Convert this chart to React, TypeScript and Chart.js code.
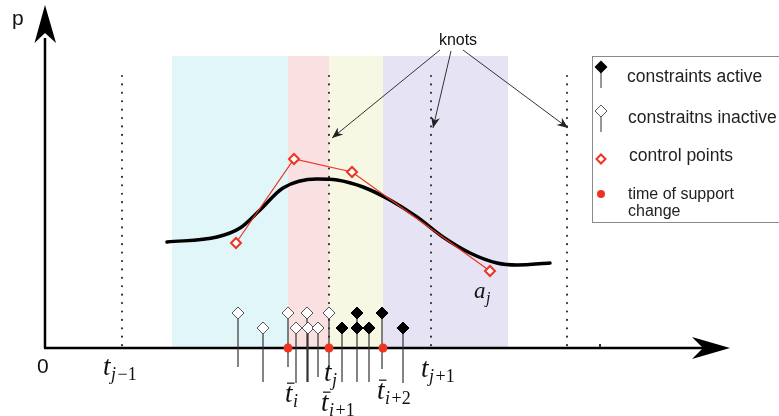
import React, { useEffect, useRef } from 'react';
import { Chart, registerables } from 'chart.js';
Chart.register(...registerables);

// Coordinates: x = time (t), y = p (height above the time axis)
const X_MIN = 0, X_MAX = 779, Y_MIN = -68, Y_MAX = 348;

const curveX = [167, 217, 240, 260, 283, 317, 337, 363, 390, 417, 443, 470, 497, 517, 550];
const curveY = [106, 111, 120, 138, 160, 169, 168, 161, 148, 131, 111, 95, 85, 83, 85];

const ctrlX = [236, 294, 352, 490];
const ctrlY = [105, 189, 176, 77];

const inactiveX = [238, 263, 288, 296, 307, 308, 318, 329];
const inactiveTop = [35, 20, 35, 20, 35, 20, 20, 35];
const inactiveBottom = [-19, -34, -19, -35, -34, -34, -29, -21];

const activeX = [342, 357, 357, 369, 382, 403];
const activeTop = [20, 35, 20, 20, 35, 20];
const activeBottom = [-34, -34, -34, -34, -21, -35];

const supportChangeX = [288, 329, 383];

const knotX = [122, 329, 431, 567];
const knotTop = 272;

const bandEdges = [172, 288, 329, 383, 508];
const bandColors = ['#e0f6f8', '#f9e1e2', '#f7f8e3', '#e6e3f5'];
const bandTop = 292;

const axisXStart = 44, axisXEnd = 705, axisXTip = 730;
const axisYX = 45, axisYEnd = 310, axisYTip = 343;
const tickX = 600;

const knotsLabel = { x: 458, y: 303, text: 'knots' };
const knotArrowFrom = [[440, 298], [451, 297], [463, 298]];
const knotArrowTo = [[332, 210], [433, 220], [568, 220]];

type Part = [string, boolean];
const mathLabels: { x: number; y: number; base: string; sub: Part[]; bar: boolean; size: number }[] = [
  { x: 103, y: -27, base: 't', sub: [['j', true], ['\u22121', false]], bar: false, size: 27 },
  { x: 285, y: -54, base: 't', sub: [['i', true]], bar: true, size: 27 },
  { x: 324, y: -33, base: 't', sub: [['j', true]], bar: false, size: 27 },
  { x: 321, y: -63, base: 't', sub: [['i', true], ['+1', false]], bar: true, size: 27 },
  { x: 377, y: -51, base: 't', sub: [['i', true], ['+2', false]], bar: true, size: 27 },
  { x: 421, y: -29, base: 't', sub: [['j', true], ['+1', false]], bar: false, size: 27 },
  { x: 474, y: 50, base: 'a', sub: [['j', true]], bar: false, size: 23 },
];

const legendItems = ['constraints active', 'constraitns inactive', 'control points', 'time of support', 'change'];

function stemData(xs: number[], tops: number[], bottoms: number[]) {
  const out: any[] = [];
  xs.forEach((x, i) => {
    out.push({ x, y: tops[i] }, { x, y: bottoms[i] }, { x, y: null });
  });
  return out;
}

function arrowHead(ctx: CanvasRenderingContext2D, fx: number, fy: number, tx: number, ty: number, len: number, half: number) {
  const a = Math.atan2(ty - fy, tx - fx);
  const c = Math.cos(a), s = Math.sin(a);
  ctx.beginPath();
  ctx.moveTo(tx, ty);
  ctx.lineTo(tx - len * c + half * s, ty - len * s - half * c);
  ctx.lineTo(tx - len * 0.7 * c, ty - len * 0.7 * s);
  ctx.lineTo(tx - len * c - half * s, ty - len * s + half * c);
  ctx.closePath();
  ctx.fill();
}

function diamond(ctx: CanvasRenderingContext2D, x: number, y: number, r: number) {
  ctx.beginPath();
  ctx.moveTo(x, y - r);
  ctx.lineTo(x + r, y);
  ctx.lineTo(x, y + r);
  ctx.lineTo(x - r, y);
  ctx.closePath();
}

const diagramPlugin = {
  id: 'diagram',
  beforeDatasetsDraw(chart: any) {
    const ctx = chart.ctx as CanvasRenderingContext2D;
    const xs = chart.scales.x, ys = chart.scales.y;
    ctx.save();
    for (let i = 0; i < bandColors.length; i++) {
      const l = xs.getPixelForValue(bandEdges[i]);
      const r = xs.getPixelForValue(bandEdges[i + 1]);
      const t = ys.getPixelForValue(bandTop);
      const b = ys.getPixelForValue(0);
      ctx.fillStyle = bandColors[i];
      ctx.fillRect(l, t, r - l, b - t);
    }
    ctx.restore();
  },
  afterDatasetsDraw(chart: any) {
    const ctx = chart.ctx as CanvasRenderingContext2D;
    const xs = chart.scales.x, ys = chart.scales.y;
    const px = (v: number) => xs.getPixelForValue(v);
    const py = (v: number) => ys.getPixelForValue(v);
    ctx.save();
    ctx.fillStyle = '#000';
    // y-axis arrowhead
    const yx = px(axisYX);
    const ytip = py(axisYTip);
    ctx.beginPath();
    ctx.moveTo(yx, ytip);
    ctx.lineTo(yx + 11, ytip + 38);
    ctx.lineTo(yx, ytip + 28);
    ctx.lineTo(yx - 10.5, ytip + 38);
    ctx.closePath();
    ctx.fill();
    // x-axis arrowhead
    const xtip = px(axisXTip);
    const xy = py(0);
    ctx.beginPath();
    ctx.moveTo(xtip, xy);
    ctx.lineTo(xtip - 38, xy - 11);
    ctx.lineTo(xtip - 27, xy);
    ctx.lineTo(xtip - 38, xy + 11);
    ctx.closePath();
    ctx.fill();
    // small tick
    ctx.fillRect(px(tickX) - 0.8, xy - 4, 1.6, 5);

    // knots arrows
    ctx.strokeStyle = '#333';
    ctx.fillStyle = '#222';
    ctx.lineWidth = 1;
    knotArrowFrom.forEach((f, i) => {
      const fx = px(f[0]), fy = py(f[1]);
      const tx = px(knotArrowTo[i][0]), ty = py(knotArrowTo[i][1]);
      ctx.beginPath();
      ctx.moveTo(fx, fy);
      ctx.lineTo(tx, ty);
      ctx.stroke();
      arrowHead(ctx, fx, fy, tx, ty, 11, 4.5);
    });
    ctx.fillStyle = '#111';
    ctx.font = '16px "Liberation Sans", Arial, sans-serif';
    ctx.textAlign = 'center';
    ctx.textBaseline = 'alphabetic';
    ctx.fillText(knotsLabel.text, px(knotsLabel.x), py(knotsLabel.y));

    // axis labels
    ctx.font = '21px "Liberation Sans", Arial, sans-serif';
    ctx.textAlign = 'left';
    ctx.fillText('p', 12, 25);
    ctx.fillText('0', 37, 373);

    // math labels
    mathLabels.forEach((m) => {
      const x = px(m.x), y = py(m.y);
      ctx.fillStyle = '#111';
      ctx.font = `italic ${m.size}px "Liberation Serif", "DejaVu Serif", serif`;
      ctx.fillText(m.base, x, y);
      const w = ctx.measureText(m.base).width;
      if (m.bar) {
        ctx.fillRect(x + 2, y - m.size * 0.72, w, 1.2);
      }
      let cx = x + w + 0.5;
      const sy = y + m.size * 0.2;
      m.sub.forEach(([txt, it]) => {
        ctx.font = `${it ? 'italic ' : ''}${Math.round(m.size * 0.68)}px "Liberation Serif", "DejaVu Serif", serif`;
        ctx.fillText(txt, cx, sy);
        cx += ctx.measureText(txt).width + (it ? 1.5 : 0);
      });
    });

    // legend
    ctx.strokeStyle = '#8a8a8a';
    ctx.lineWidth = 1;
    ctx.strokeRect(592.5, 56.5, 200, 166);
    // constraints active
    ctx.strokeStyle = '#333';
    ctx.beginPath();
    ctx.moveTo(601, 70); ctx.lineTo(601, 88); ctx.stroke();
    ctx.fillStyle = '#000';
    diamond(ctx, 601, 67, 6.5); ctx.fill();
    // inactive
    ctx.beginPath();
    ctx.moveTo(601, 114); ctx.lineTo(601, 132); ctx.stroke();
    diamond(ctx, 601, 111, 6);
    ctx.fillStyle = '#fff'; ctx.fill();
    ctx.strokeStyle = '#555'; ctx.lineWidth = 1; ctx.stroke();
    // control point
    diamond(ctx, 601, 159, 4.5);
    ctx.fillStyle = '#fff'; ctx.fill();
    ctx.strokeStyle = '#ee3322'; ctx.lineWidth = 2; ctx.stroke();
    // support change
    ctx.beginPath();
    ctx.arc(601, 194, 4, 0, Math.PI * 2);
    ctx.fillStyle = '#ee3322'; ctx.fill();

    ctx.fillStyle = '#222';
    ctx.font = '17.5px "Liberation Sans", Arial, sans-serif';
    ctx.fillText(legendItems[0], 627, 82);
    ctx.fillText(legendItems[1], 628, 123);
    ctx.fillText(legendItems[2], 629, 161);
    ctx.font = '16px "Liberation Sans", Arial, sans-serif';
    ctx.fillText(legendItems[3], 628, 199);
    ctx.fillText(legendItems[4], 628, 216);
    ctx.restore();
  },
};

export default function App() {
  const ref = useRef<HTMLCanvasElement | null>(null);
  useEffect(() => {
    if (!ref.current) return;
    const red = '#ee3322';
    const chart = new Chart(ref.current, {
      type: 'scatter',
      data: {
        datasets: [
          {
            label: 'control points',
            data: ctrlX.map((x, i) => ({ x, y: ctrlY[i] })),
            showLine: true,
            borderColor: red,
            borderWidth: 1.2,
            pointStyle: 'rectRot',
            pointRadius: 5,
            pointBorderWidth: 2,
            pointBorderColor: red,
            pointBackgroundColor: '#fff',
          } as any,
          {
            label: 'curve',
            data: curveX.map((x, i) => ({ x, y: curveY[i] })),
            showLine: true,
            borderColor: '#000',
            borderWidth: 3.5,
            pointRadius: 0,
            cubicInterpolationMode: 'monotone',
            borderCapStyle: 'round',
          } as any,
          {
            label: 'time of support change',
            data: supportChangeX.map((x) => ({ x, y: 0 })),
            pointRadius: 4.5,
            pointBackgroundColor: red,
            pointBorderColor: red,
            pointBorderWidth: 0,
          } as any,
          {
            label: 'constraints active',
            data: activeX.map((x, i) => ({ x, y: activeTop[i] })),
            pointStyle: 'rectRot',
            pointRadius: 6,
            pointBackgroundColor: '#000',
            pointBorderColor: '#000',
            pointBorderWidth: 1,
          } as any,
          {
            label: 'constraints inactive',
            data: inactiveX.map((x, i) => ({ x, y: inactiveTop[i] })),
            pointStyle: 'rectRot',
            pointRadius: 6,
            pointBackgroundColor: '#fff',
            pointBorderColor: '#555',
            pointBorderWidth: 1,
          } as any,
          {
            label: 'stems',
            data: [...stemData(inactiveX, inactiveTop, inactiveBottom), ...stemData(activeX, activeTop, activeBottom)],
            showLine: true,
            spanGaps: false,
            borderColor: '#333',
            borderWidth: 1.2,
            pointRadius: 0,
          } as any,
          {
            label: 'axes',
            data: [
              { x: axisXStart, y: 0 }, { x: axisXEnd, y: 0 }, { x: axisXStart, y: null },
              { x: axisYX, y: 0 }, { x: axisYX, y: axisYEnd },
            ],
            showLine: true,
            spanGaps: false,
            borderColor: '#000',
            borderWidth: 2.5,
            pointRadius: 0,
          } as any,
          {
            label: 'knots',
            data: knotX.flatMap((x) => [{ x, y: knotTop }, { x, y: 0 }, { x, y: null }]),
            showLine: true,
            spanGaps: false,
            borderColor: '#333',
            borderWidth: 2.2,
            borderDash: [0.01, 8.4],
            borderCapStyle: 'round',
            pointRadius: 0,
          } as any,
        ],
      },
      options: {
        responsive: false,
        maintainAspectRatio: false,
        animation: false,
        layout: { padding: 0, autoPadding: false },
        plugins: { legend: { display: false }, tooltip: { enabled: false } },
        scales: {
          x: { type: 'linear', min: X_MIN, max: X_MAX, display: false },
          y: { type: 'linear', min: Y_MIN, max: Y_MAX, display: false },
        },
      },
      plugins: [diagramPlugin],
    });
    return () => chart.destroy();
  }, []);
  return (
    <div style={{ position: 'fixed', left: 0, top: 0, width: 779, height: 416, background: '#fff' }}>
      <canvas ref={ref} width={779} height={416} style={{ display: 'block' }} />
    </div>
  );
}
